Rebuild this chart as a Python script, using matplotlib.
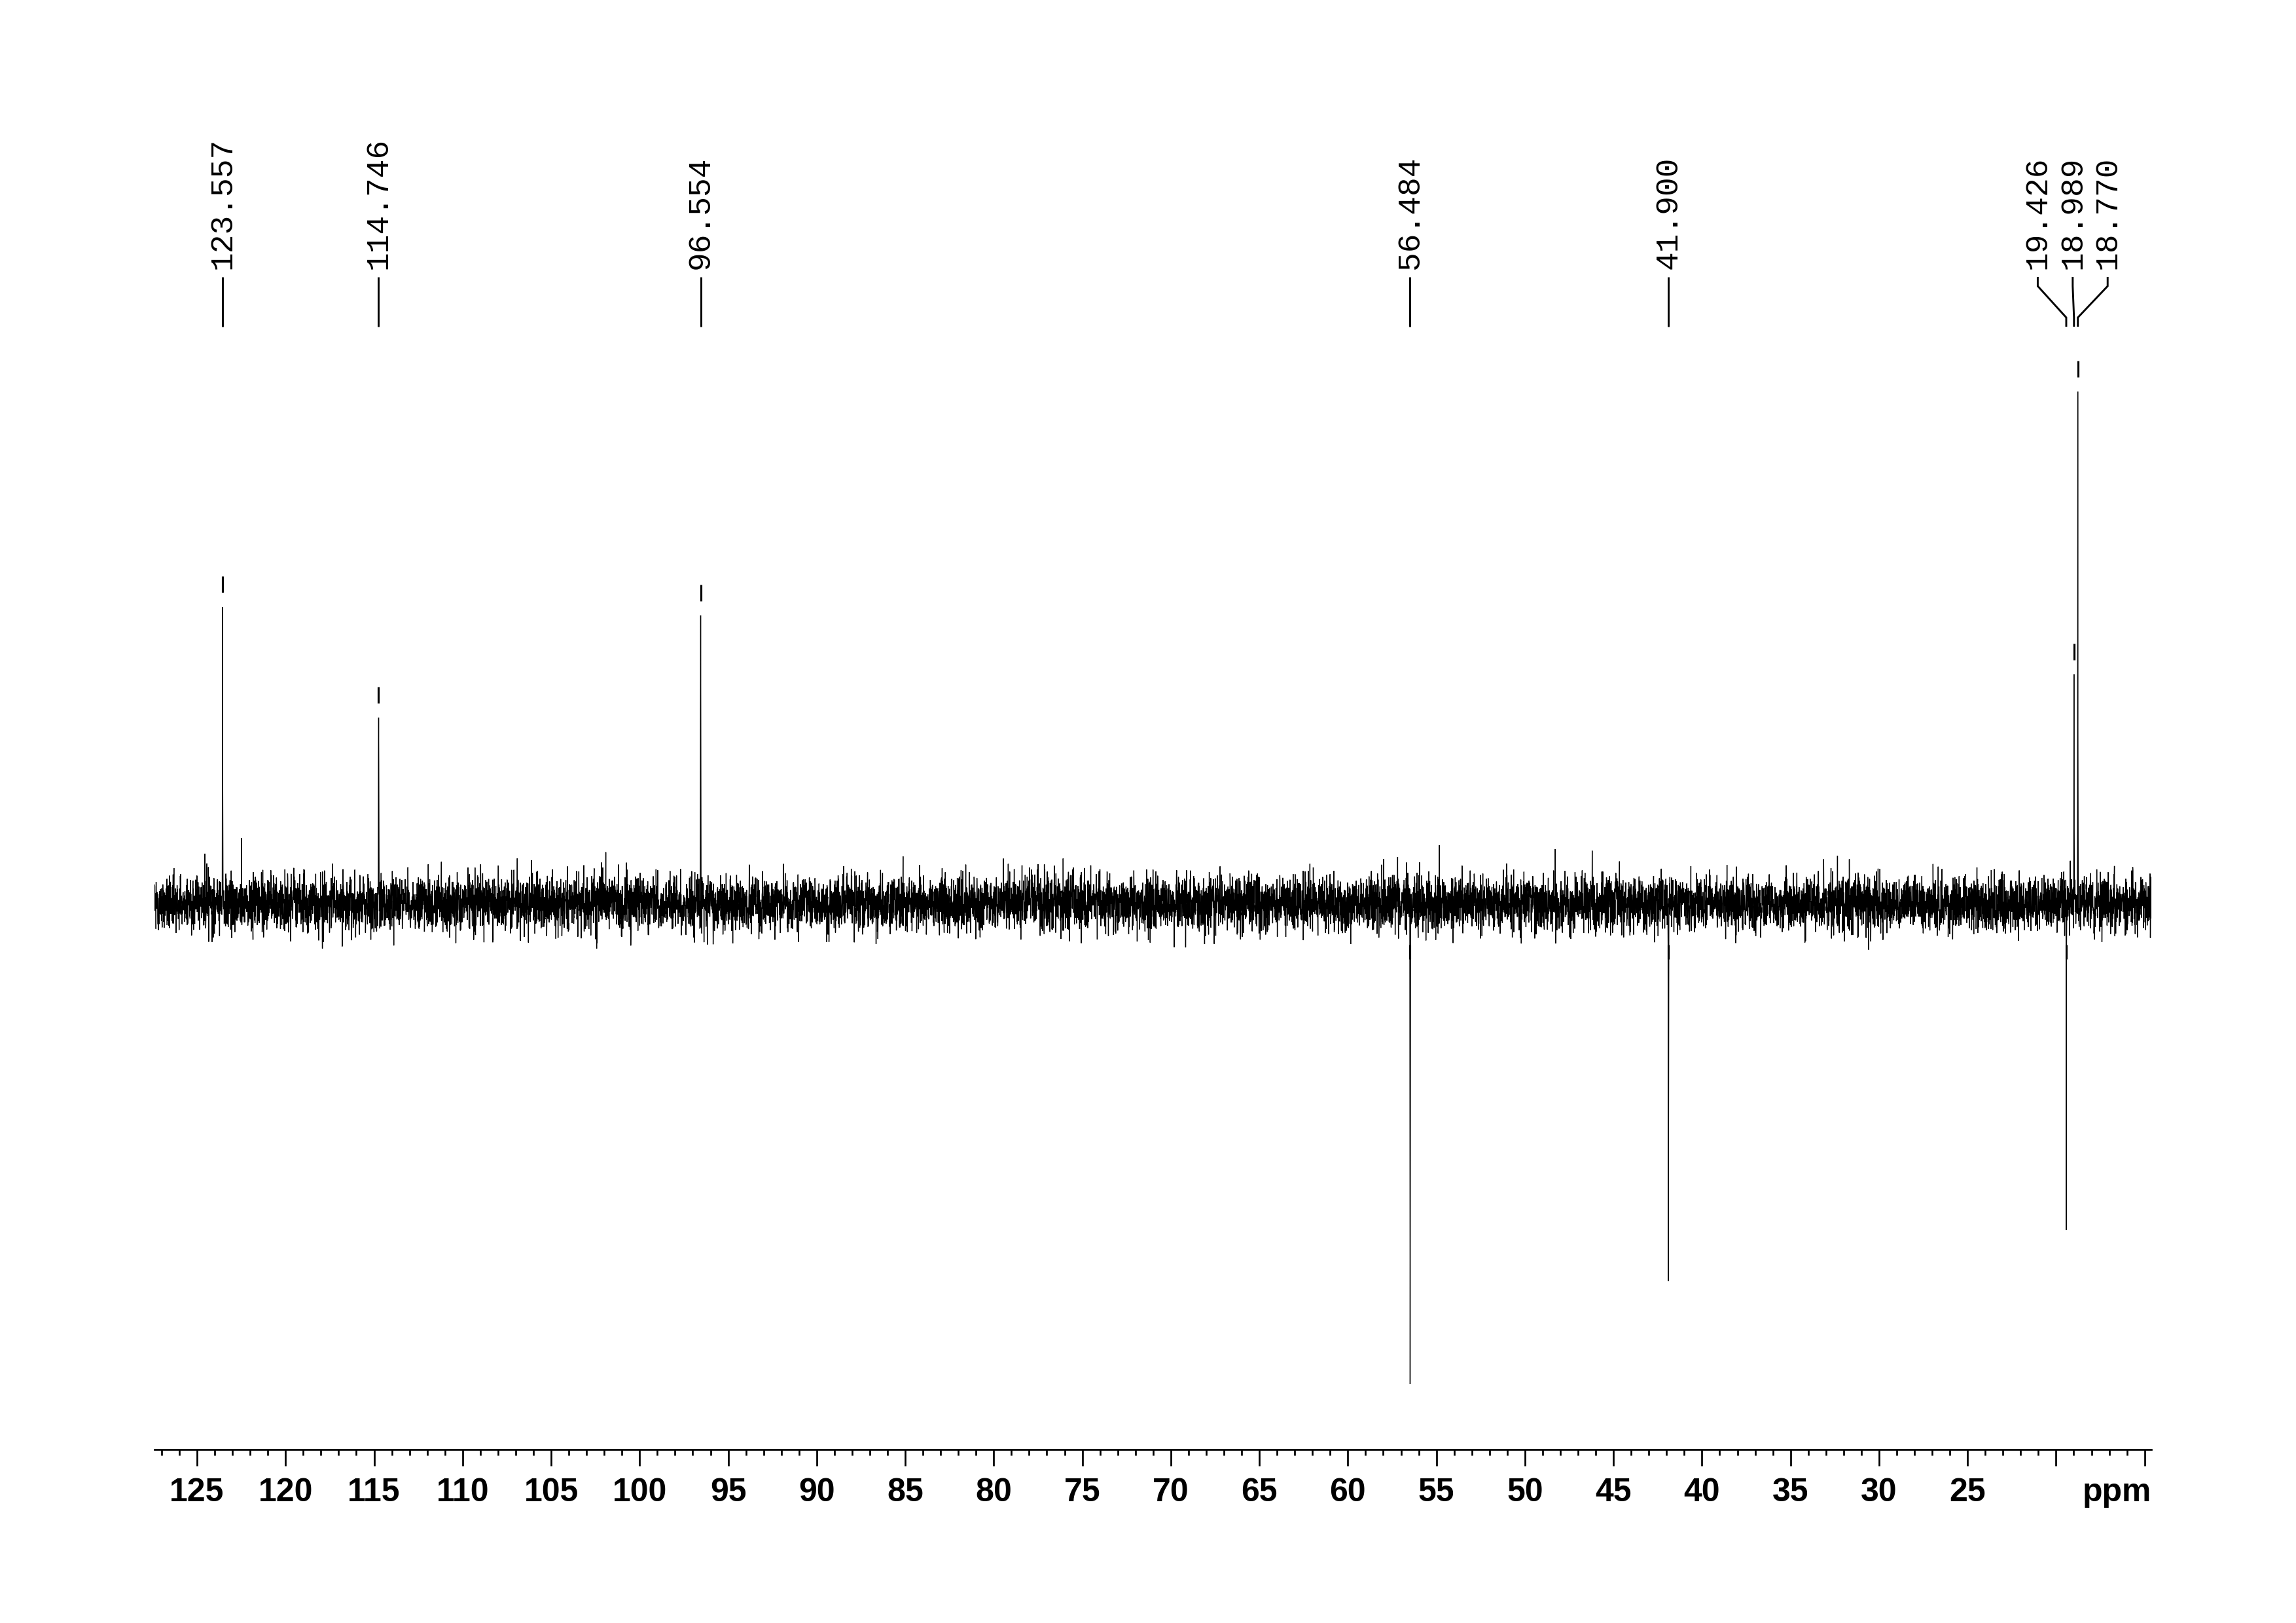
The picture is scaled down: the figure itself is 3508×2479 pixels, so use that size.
import numpy as np
import matplotlib
matplotlib.use("Agg")
import matplotlib.pyplot as plt

# ---------------- data ----------------
# picked peaks: chemical shift (ppm) and intensity (arbitrary units, + up / - down)
peak_ppm = [123.557, 114.746, 96.554, 56.484, 41.900, 19.426, 18.989, 18.770]
peak_height = [453, 284, 440, -734, -577, -499, 350, 782]
# intensity of the neighbouring data points (lower, darker part of each line)
peak_shoulder = [212, 228, 288, -461, -376, -90, 120, 284]
# small unpicked signals visible above the noise
minor_ppm = [122.49, 54.83, 48.29]
minor_height = [100, 89, 83]

major_tick_values = [125, 120, 115, 110, 105, 100, 95, 90, 85, 80, 75, 70,
                     65, 60, 55, 50, 45, 40, 35, 30, 25, 20, 15]
major_tick_labels = ["125", "120", "115", "110", "105", "100", "95", "90", "85",
                     "80", "75", "70", "65", "60", "55", "50", "45", "40", "35",
                     "30", "25", "", ""]
ppm_start, ppm_end = 127.403, 14.619
n_points = 12000
noise_sigma = 21.0  # baseline noise level (texture only)

# ---------------- figure ----------------
plt.rcParams['font.family'] = ['Liberation Sans', 'DejaVu Sans']
W, H, DPI = 3508, 2479, 300
fig = plt.figure(figsize=(W / DPI, H / DPI), dpi=DPI)
fig.patch.set_facecolor('white')

base_px, axis_px = 1380, 2214
left_px, right_px = 236, 3287
ax = fig.add_axes([left_px / W, 1 - axis_px / H, (right_px - left_px) / W, axis_px / H])
ax.set_xlim(ppm_start, ppm_end)
ax.set_ylim(base_px - axis_px, base_px)  # units ~ pixels from baseline

# spectrum trace
x = np.linspace(ppm_start, ppm_end, n_points)
rng = np.random.default_rng(11)
y = rng.normal(0.0, noise_sigma, n_points)
for p, h, s in zip(peak_ppm, peak_height, peak_shoulder):
    i = int(np.argmin(np.abs(x - p)))
    y[i] = h
    y[i - 1] = s
    y[i + 1] = s * 0.95
    y[i + 2] = s * 0.5
for p, h in zip(minor_ppm, minor_height):
    i = int(np.argmin(np.abs(x - p)))
    y[i] = h
ax.plot(x, y, color='black', lw=0.32, solid_joinstyle='miter')

# peak-pick marks
for p, h in zip(peak_ppm, peak_height):
    if h > 0:
        ax.plot([p, p], [h + 22, h + 47], color='black', lw=0.75, solid_capstyle='butt')
    else:
        ax.plot([p, p], [-63, -85], color='black', lw=0.75, solid_capstyle='butt')

# label positions: spread crowded labels apart
px_per_ppm = (right_px - left_px) / (ppm_start - ppm_end)
min_sep = 53.4 / px_per_ppm
order = sorted(range(len(peak_ppm)), key=lambda k: -peak_ppm[k])
groups, cur = [], [order[0]]
for k in order[1:]:
    if peak_ppm[cur[-1]] - peak_ppm[k] < min_sep:
        cur.append(k)
    else:
        groups.append(cur)
        cur = [k]
groups.append(cur)
label_pos = {}
for g in groups:
    c = np.mean([peak_ppm[k] for k in g])
    n = len(g)
    for j, k in enumerate(g):
        label_pos[k] = c + ((n - 1) / 2 - j) * min_sep

# connector y levels (pixels from baseline)
y_top, y_k1, y_k2, y_bot = base_px - 423, base_px - 437, base_px - 485, base_px - 499
y_text = base_px - 411
for k, p in enumerate(peak_ppm):
    lx = label_pos[k]
    ax.plot([lx, lx, p, p], [y_top, y_k1, y_k2, y_bot], color='black', lw=0.7,
            solid_capstyle='butt', solid_joinstyle='miter', clip_on=False)
    ax.text(lx, y_text, f"{p:.3f}", rotation=90, ha='center', va='bottom',
            family=['Liberation Mono', 'DejaVu Sans Mono'], fontsize=11.5, color='black')

# axis styling
for s in ('top', 'left', 'right'):
    ax.spines[s].set_visible(False)
ax.spines['bottom'].set_linewidth(0.65)
ax.set_yticks([])
ax.set_xticks(major_tick_values)
ax.set_xticklabels(major_tick_labels, fontweight='bold', fontsize=12)
ax.set_xticks(list(range(127, 14, -1)), minor=True)
ax.tick_params(axis='x', which='major', direction='out', length=6.0, width=0.65, pad=4.3)
ax.tick_params(axis='x', which='minor', direction='out', length=2.2, width=0.65)
ax.annotate('ppm', xy=(ppm_end, 0), xycoords=('data', 'axes fraction'),
            xytext=(0, -(6.0 + 4.3)), textcoords='offset points',
            ha='right', va='top', fontsize=12, fontweight='bold')
ax.set_facecolor('white')

fig.savefig('out.png', dpi=DPI, facecolor='white')
